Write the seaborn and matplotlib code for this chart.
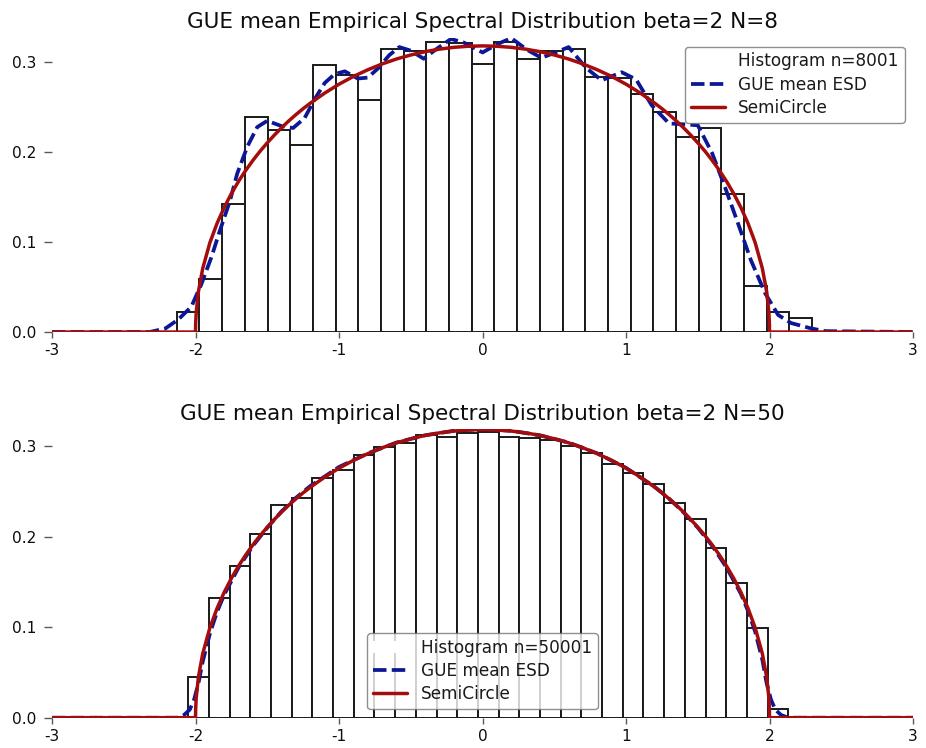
import numpy as np
import pandas as pd
import matplotlib
matplotlib.use("Agg")
import matplotlib.pyplot as plt
import seaborn as sns
from matplotlib.patches import Patch
from matplotlib.lines import Line2D

# ---------------- data ----------------
titles = ["GUE mean Empirical Spectral Distribution beta=2 N=8",
          "GUE mean Empirical Spectral Distribution beta=2 N=50"]
hist_labels = ["Histogram n=8001", "Histogram n=50001"]
esd_label = "GUE mean ESD"
semi_label = "SemiCircle"

x_ticks = [-3, -2, -1, 0, 1, 2, 3]
y_ticks = [0.0, 0.1, 0.2, 0.3]

# top panel (N=8) histogram: bin range and bar heights
top_bin_range = (-2.131, 2.297)
top_hist = [0.0226, 0.0585, 0.142, 0.239, 0.225, 0.2085, 0.2967, 0.2855, 0.2585,
            0.315, 0.313, 0.323, 0.322, 0.2985, 0.3226, 0.3033, 0.313, 0.315,
            0.284, 0.283, 0.2644, 0.2448, 0.217, 0.227, 0.153, 0.0515, 0.0226, 0.0152]

# bottom panel (N=50) histogram
bot_bin_range = (-2.051, 2.131)
bot_hist = [0.045, 0.132, 0.168, 0.203, 0.235, 0.243, 0.265, 0.274, 0.290, 0.299,
            0.303, 0.312, 0.310, 0.315, 0.316, 0.310, 0.309, 0.307, 0.300, 0.293,
            0.280, 0.270, 0.258, 0.237, 0.220, 0.188, 0.149, 0.099, 0.010]

# GUE mean ESD, N=8
top_esd_x = [-3.0, -2.32, -2.21, -2.12, -2.03, -1.96, -1.89, -1.83, -1.76, -1.71, -1.64,
             -1.57, -1.50, -1.40, -1.32, -1.24, -1.17, -1.10, -1.03, -0.96, -0.87,
             -0.80, -0.73, -0.65, -0.58, -0.50, -0.41, -0.32, -0.22, -0.13, 0.00,
             0.10, 0.20, 0.31, 0.41, 0.51, 0.60, 0.72, 0.83, 0.97, 1.07, 1.18, 1.30,
             1.41, 1.50, 1.60, 1.69, 1.78, 1.87, 1.97, 2.06, 2.15, 2.29, 2.39, 3.0]
top_esd_y = [0.0, 0.0, 0.004, 0.014, 0.028, 0.053, 0.083, 0.113, 0.146, 0.176, 0.206,
             0.228, 0.235, 0.229, 0.227, 0.238, 0.259, 0.277, 0.287, 0.290, 0.282,
             0.283, 0.293, 0.308, 0.317, 0.313, 0.304, 0.315, 0.326, 0.322, 0.311,
             0.320, 0.327, 0.314, 0.305, 0.311, 0.317, 0.294, 0.280, 0.289, 0.281,
             0.252, 0.232, 0.231, 0.230, 0.199, 0.161, 0.121, 0.080, 0.043, 0.019,
             0.010, 0.004, 0.001, 0.0]

# GUE mean ESD, N=50
bot_esd_x = [-3.0, -2.13, -2.08, -2.04, -2.01, -1.98, -1.95, -1.9, -1.85, -1.8, -1.7,
             -1.6, -1.5, -1.4, -1.3, -1.2, -1.0, -0.8, -0.6, -0.4, -0.2, 0.0, 0.2, 0.4,
             0.6, 0.8, 1.0, 1.2, 1.3, 1.4, 1.5, 1.6, 1.7, 1.8, 1.85, 1.9, 1.95, 1.98,
             2.01, 2.04, 2.08, 2.13, 3.0]
bot_esd_y = [0.0, 0.0, 0.003, 0.009, 0.020, 0.038, 0.062, 0.093, 0.117, 0.136, 0.166,
             0.190, 0.210, 0.228, 0.243, 0.256, 0.277, 0.292, 0.304, 0.312, 0.317, 0.319,
             0.317, 0.312, 0.304, 0.292, 0.276, 0.255, 0.242, 0.227, 0.210, 0.190, 0.166,
             0.137, 0.118, 0.095, 0.064, 0.038, 0.020, 0.009, 0.003, 0.0, 0.0]

# semicircle law
semi_x = [-3.0, -2.0, -1.999, -1.995, -1.98, -1.95, -1.9, -1.85, -1.8, -1.75, -1.7,
          -1.65, -1.6, -1.55, -1.5, -1.45, -1.4, -1.35, -1.3, -1.25, -1.2, -1.1, -1.0,
          -0.9, -0.8, -0.7, -0.6, -0.5, -0.4, -0.3, -0.2, -0.1, 0.0,
          0.1, 0.2, 0.3, 0.4, 0.5, 0.6, 0.7, 0.8, 0.9, 1.0, 1.1, 1.2, 1.25, 1.3, 1.35,
          1.4, 1.45, 1.5, 1.55, 1.6, 1.65, 1.7, 1.75, 1.8, 1.85, 1.9, 1.95, 1.98,
          1.995, 1.999, 2.0, 3.0]
semi_y = [0.0, 0.0, 0.0101, 0.0225, 0.0449, 0.0707, 0.0994, 0.1209, 0.1387, 0.1541,
          0.1677, 0.1799, 0.1910, 0.2012, 0.2105, 0.2192, 0.2273, 0.2349, 0.2419,
          0.2485, 0.2546, 0.2658, 0.2757, 0.2843, 0.2917, 0.2982, 0.3037, 0.3082,
          0.3119, 0.3147, 0.3167, 0.3179, 0.3183,
          0.3179, 0.3167, 0.3147, 0.3119, 0.3082, 0.3037, 0.2982, 0.2917, 0.2843,
          0.2757, 0.2658, 0.2546, 0.2485, 0.2419, 0.2349, 0.2273, 0.2192, 0.2105,
          0.2012, 0.1910, 0.1799, 0.1677, 0.1541, 0.1387, 0.1209, 0.0994, 0.0707,
          0.0449, 0.0225, 0.0101, 0.0, 0.0]

# ---------------- style ----------------
sns.set_style("white")
plt.rcParams["font.family"] = ["DejaVu Sans"]
plt.rcParams["axes.unicode_minus"] = False

RED = "#a50d0d"
BLUE = "#0c1796"
EDGE = "0.1"
DASH = (3.6, 1.4)

fig = plt.figure(figsize=(9.26, 7.48), dpi=100)
ax_top = fig.add_axes([0.0562, 0.5561, 0.9298, 0.3930])
ax_bot = fig.add_axes([0.0562, 0.0405, 0.9298, 0.3854])

panels = [
    (ax_top, top_bin_range, top_hist, top_esd_x, top_esd_y, 0.327, "upper right"),
    (ax_bot, bot_bin_range, bot_hist, bot_esd_x, bot_esd_y, 0.3185, "lower center"),
]

for i, (ax, brange, hvals, ex, ey, ytop, loc) in enumerate(panels):
    edges = np.linspace(brange[0], brange[1], len(hvals) + 1)
    hist_df = pd.DataFrame({"x": 0.5 * (edges[:-1] + edges[1:]), "w": hvals})
    sns.histplot(data=hist_df, x="x", weights="w", bins=list(edges), stat="count",
                 color="white", edgecolor=EDGE, linewidth=1.4, alpha=1.0, ax=ax)
    sns.lineplot(x=ex, y=ey, ax=ax, color=BLUE, linestyle=(0, DASH), linewidth=2.7)
    sns.lineplot(x=semi_x, y=semi_y, ax=ax, color=RED, linewidth=2.5)

    ax.set_xlim(-3, 3)
    ax.set_ylim(0, ytop)
    ax.set_xticks(x_ticks)
    ax.set_xticklabels([str(t) for t in x_ticks])
    ax.set_yticks(y_ticks)
    ax.set_yticklabels([f"{t:.1f}" for t in y_ticks])
    ax.set_xlabel("")
    ax.set_ylabel("")
    sns.despine(ax=ax, left=True, bottom=True, right=True, top=True)
    ax.tick_params(axis="x", bottom=True, length=4.5, width=1.0, color="0.35",
                   labelsize=11.1, labelcolor="0.05", pad=3.5, direction="out")
    ax.tick_params(axis="y", left=True, length=5.5, width=1.0, color="0.35",
                   labelsize=11.1, labelcolor="0.05", pad=6, direction="out")
    ax.set_title(titles[i], fontsize=15.5, color="0.05", pad=7)

    handles = [Patch(facecolor="white", edgecolor="none"),
               Line2D([], [], color=BLUE, linestyle=(0, DASH), linewidth=2.7),
               Line2D([], [], color=RED, linewidth=2.5)]
    leg = ax.legend(handles, [hist_labels[i], esd_label, semi_label], loc=loc,
                    fontsize=12.2, framealpha=0.8, edgecolor="0.45", fancybox=True,
                    labelspacing=0.3, borderpad=0.35)
    for t in leg.get_texts():
        t.set_color("0.1")

fig.savefig("out.png", dpi=100)
